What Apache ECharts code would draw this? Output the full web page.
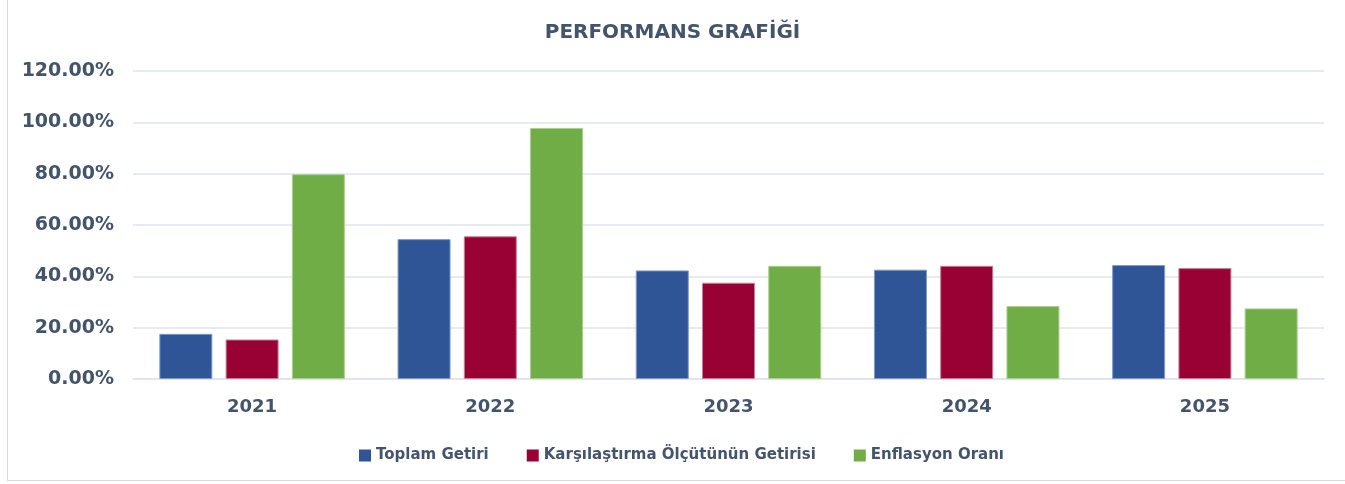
<!DOCTYPE html>
<html>
<head>
<meta charset="utf-8">
<script src="https://cdn.jsdelivr.net/npm/echarts@6/dist/echarts.min.js"></script>
<style>
  html, body { margin: 0; padding: 0; background: #fff; }
  #chart { width: 1345px; height: 484px; }
  #frame { position: absolute; left: 7px; top: -2px; width: 1345px; height: 482px;
           border-left: 1px solid #d9d9d9; border-bottom: 1px solid #d9d9d9; pointer-events: none; }
</style>
</head>
<body>
<div id="chart"></div>
<div id="frame"></div>
<script>
// veriler
var years = ['2021', '2022', '2023', '2024', '2025'];
var toplamGetiri = [17.6, 54.5, 42.3, 42.6, 44.4];
var karsilastirma = [15.4, 55.6, 37.5, 44.1, 43.2];
var enflasyon = [79.8, 97.8, 44.1, 28.4, 27.5];
var seriesNames = ['Toplam Getiri', 'Karşılaştırma Ölçütünün Getirisi', 'Enflasyon Oranı'];

var textColor = '#44546A';
var font = 'DejaVu Sans';

var chart = echarts.init(document.getElementById('chart'));

function bar(name, data, color, border) {
    return {
        name: name,
        type: 'bar',
        data: data,
        barWidth: 53,
        barGap: '25%',
        itemStyle: { color: color, borderColor: border, borderWidth: 1 }
    };
}

var option = {
    animation: false,
    title: {
        text: 'PERFORMANS GRAFİĞİ',
        left: 'center',
        top: 18,
        textStyle: { color: textColor, fontFamily: font, fontWeight: 'bold', fontSize: 20 }
    },
    legend: {
        data: seriesNames,
        left: 354,
        top: 443,
        itemWidth: 12,
        itemHeight: 12,
        itemGap: 38,
        icon: 'rect',
        itemStyle: { borderWidth: 0 },
        textStyle: { color: textColor, fontFamily: font, fontWeight: 'bold', fontSize: 15 }
    },
    grid: { left: 133, right: 21, top: 71, bottom: 105 },
    xAxis: {
        type: 'category',
        data: years,
        axisTick: { show: false },
        axisLine: { lineStyle: { color: '#dfe4ea', width: 1.5 } },
        axisLabel: { color: textColor, fontFamily: font, fontWeight: 'bold', fontSize: 18, margin: 19 }
    },
    yAxis: {
        type: 'value',
        min: 0,
        max: 120,
        interval: 20,
        axisLine: { show: false },
        axisTick: { show: false },
        splitLine: { lineStyle: { color: '#dfe4ea', width: 1.5 } },
        axisLabel: {
            color: textColor, fontFamily: font, fontWeight: 'bold', fontSize: 19, margin: 19,
            formatter: function (v) { return v.toFixed(2) + '%'; }
        }
    },
    series: [
        bar(seriesNames[0], toplamGetiri, '#2F5597', '#7f9bc9'),
        bar(seriesNames[1], karsilastirma, '#990033', '#c87f96'),
        bar(seriesNames[2], enflasyon, '#70AD47', '#a9d08e')
    ]
};
chart.setOption(option);
</script>
</body>
</html>
